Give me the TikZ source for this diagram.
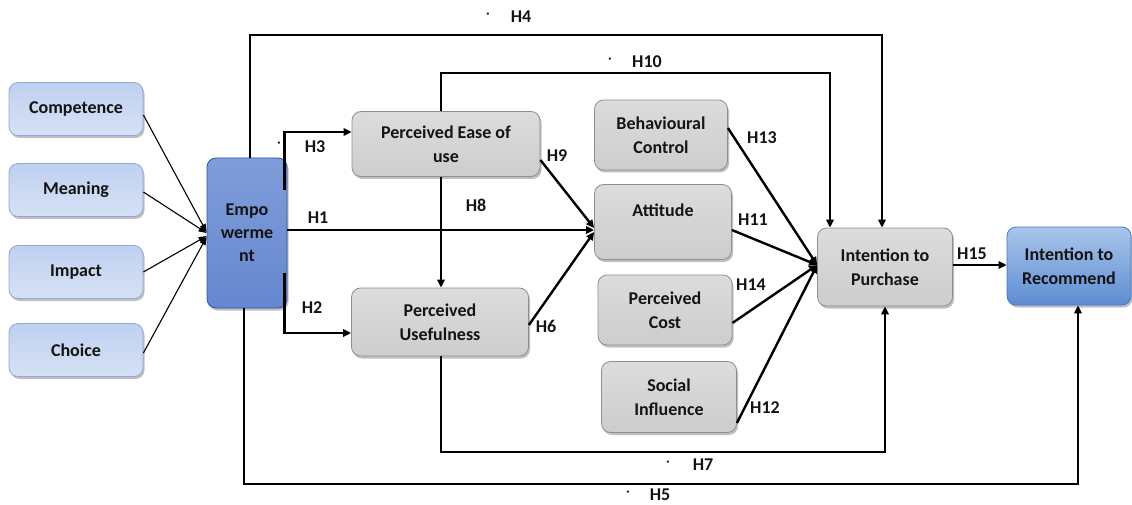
\documentclass[tikz,border=0pt]{standalone}
\usepackage{fontspec}
\setmainfont{Carlito}
\usetikzlibrary{arrows.meta,shadows}
\definecolor{txt}{HTML}{141414}
\definecolor{gtop}{HTML}{DCDCDC}
\definecolor{gmid}{HTML}{BBBBBB}
\definecolor{gbot}{HTML}{CDCDCD}
\definecolor{gdraw}{HTML}{8F8F8F}
\definecolor{ltop}{HTML}{BFD0F0}
\definecolor{lmid}{HTML}{F2F6FC}
\definecolor{lbot}{HTML}{D6E1F5}
\definecolor{ldraw}{HTML}{8DA9DF}
\definecolor{etop}{HTML}{7F9DDA}
\definecolor{emid}{HTML}{3C69C2}
\definecolor{ebot}{HTML}{6687CF}
\definecolor{edraw}{HTML}{2C56A6}
\definecolor{rtop}{HTML}{A9C6EC}
\definecolor{rmid}{HTML}{6F9CDB}
\definecolor{rbot}{HTML}{5E8CD2}
\definecolor{rdraw}{HTML}{4677C0}
\begin{document}
\begin{tikzpicture}[x=1pt,y=-1pt,
  box/.style={rounded corners=9pt, line width=0.8pt, align=center,
    font=\bfseries\fontsize{18}{24}\selectfont, text=txt, inner sep=2pt,
    drop shadow={shadow xshift=1.5pt, shadow yshift=-2.5pt, opacity=0.5}},
  greybox/.style={box, draw=gdraw, top color=gtop, middle color=gmid, bottom color=gbot},
  lbluebox/.style={box, draw=ldraw, top color=ltop, middle color=lmid, bottom color=lbot},
  dbluebox/.style={box, draw=edraw, top color=etop, middle color=emid, bottom color=ebot,
    font=\bfseries\fontsize{18}{23}\selectfont},
  rbluebox/.style={box, draw=rdraw, top color=rtop, middle color=rmid, bottom color=rbot},
  lab/.style={font=\bfseries\fontsize{18}{20}\selectfont, text=txt, inner sep=0pt},
  dotl/.style={font=\bfseries\fontsize{12}{14}\selectfont, text=txt, inner sep=0pt},
  conn/.style={line width=2.4pt, -{Triangle[length=8pt,width=7.5pt]}},
  thinconn/.style={line width=1.1pt, -{Triangle[length=8pt,width=6pt]}}
]
\useasboundingbox (0,0) rectangle (1132,505);

% left boxes
\node[lbluebox, minimum width=134pt, minimum height=53pt] (comp) at (76,109) {Competence};
\node[lbluebox, minimum width=134pt, minimum height=53pt] (mean) at (76,190) {Meaning};
\node[lbluebox, minimum width=134pt, minimum height=53pt] (imp) at (76,272) {Impact};
\node[lbluebox, minimum width=134pt, minimum height=53pt] (cho) at (76,350) {Choice};
\node[dbluebox, minimum width=80pt, minimum height=150pt] (emp) at (247,233) {Empo\\werme\\nt};

% middle boxes
\node[greybox, minimum width=188pt, minimum height=65pt] (peu) at (446,144) {Perceived Ease of\\use};
\node[greybox, minimum width=177pt, minimum height=68pt] (pu) at (440,322) {Perceived\\Usefulness};
\node[greybox, minimum width=133pt, minimum height=70pt] (bc) at (661,135) {Behavioural\\Control};
\node[greybox, minimum width=137pt, minimum height=75pt] (att) at (663,222) {Attitude\\~};
\node[greybox, minimum width=134pt, minimum height=70pt] (pc) at (665,310) {Perceived\\Cost};
\node[greybox, minimum width=135pt, minimum height=71pt] (si) at (669,397) {Social\\Influence};
\node[greybox, minimum width=135pt, minimum height=78pt] (ip) at (885,267) {Intention to\\Purchase};
\node[rbluebox, minimum width=124pt, minimum height=78pt] (ir) at (1069,266) {Intention to\\Recommend};

% bend points
\coordinate (h4a) at (250,35);
\coordinate (h4b) at (882,35);
\coordinate (h10a) at (441,73);
\coordinate (h10b) at (830,73);
\coordinate (h7a) at (441,452);
\coordinate (h7b) at (885,452);
\coordinate (h5a) at (244,484);
\coordinate (h5b) at (1078,484);

% inputs to empowerment
\draw[thinconn] ([yshift=-6pt]comp.east) -- ([yshift=1pt]emp.west);
\draw[thinconn] ([yshift=-2pt]mean.east) -- ([yshift=0pt]emp.west);
\draw[thinconn] (imp.east) -- ([yshift=-3pt]emp.west);
\draw[thinconn] ([yshift=-3pt]cho.east) -- ([yshift=-4pt]emp.west);

% H3, H2, H1
\draw[conn] ([xshift=-3pt,yshift=43pt]emp.east) |- ([yshift=12pt]peu.west);
\draw[conn] ([xshift=-3pt,yshift=-40pt]emp.east) |- ([yshift=-11pt]pu.west);
\draw[conn] ([yshift=3pt]emp.east) -- ([yshift=3pt]emp.east -| att.west);

% H8
\draw[conn] (h10a |- peu.south) -- (h10a |- pu.north);
% H9, H6
\draw[conn] ([yshift=-16pt]peu.east) -- ([yshift=-6pt]att.west);
\draw[conn] ([yshift=-3pt]pu.east) -- ([yshift=-10pt]att.west);

% to intention to purchase
\draw[conn] ([yshift=7pt]bc.east) -- ([yshift=2pt]ip.west);
\draw[conn] ([yshift=-8pt]att.east) -- ([yshift=2pt]ip.west);
\draw[conn] ([yshift=-13pt]pc.east) -- ([yshift=2pt]ip.west);
\draw[conn] ([yshift=-26pt]si.east) -- ([yshift=2pt]ip.west);

% H15
\draw[conn] ([yshift=2pt]ip.east) -- ([yshift=2pt]ip.east -| ir.west);

% H4
\draw[conn] (h4a |- emp.north) -- (h4a) -- (h4b) -- (h4b |- ip.north);
% H10
\draw[conn] (h10a |- peu.north) -- (h10a) -- (h10b) -- (h10b |- ip.north);
% H7
\draw[conn] (h7a |- pu.south) -- (h7a) -- (h7b) -- (h7b |- ip.south);
% H5
\draw[conn] (h5a |- emp.south) -- (h5a) -- (h5b) -- (h5b |- ir.south);

% labels
\node[lab] (l4) at (521,17) {H4};
\node[dotl] (d4) at (488,15) {·};
\node[lab] (l10) at (647,62) {H10};
\node[dotl] (d10) at (610,60) {·};
\node[lab] (l3) at (315,147) {H3};
\node[dotl] (d3) at (279,144) {·};
\node[lab] (l1) at (318,218) {H1};
\node[lab] (l2) at (312,308) {H2};
\node[lab] (l8) at (476,205) {H8};
\node[lab] (l9) at (557,156) {H9};
\node[lab] (l6) at (546,326) {H6};
\node[lab] (l13) at (762,138) {H13};
\node[lab] (l11) at (753,220) {H11};
\node[lab] (l14) at (751,285) {H14};
\node[lab] (l12) at (765,408) {H12};
\node[lab] (l15) at (972,254) {H15};
\node[lab] (l7) at (703,465) {H7};
\node[dotl] (d7) at (668,463) {·};
\node[lab] (l5) at (660,495) {H5};
\node[dotl] (d5) at (628,493) {·};
\end{tikzpicture}
\end{document}
